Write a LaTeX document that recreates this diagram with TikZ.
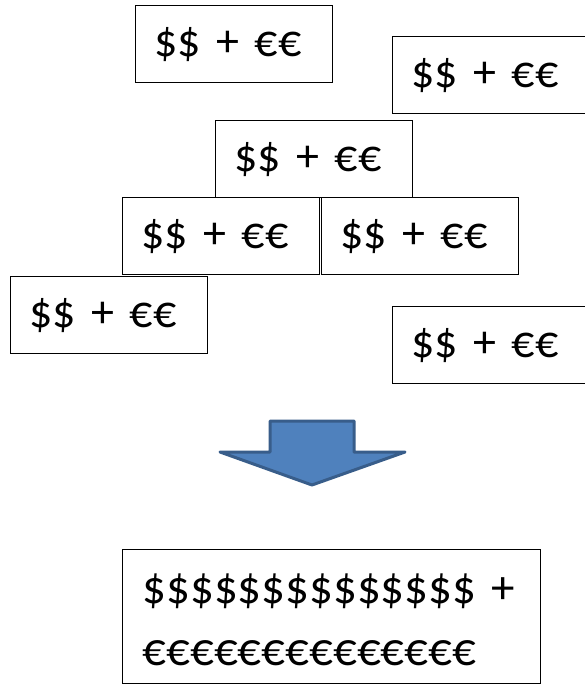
\documentclass[tikz,border=0pt]{standalone}
\usepackage{fontspec}
\setmainfont{Carlito}
\definecolor{arrowfill}{HTML}{4F81BD}
\definecolor{arrowline}{HTML}{385D8A}
\begin{document}
\begin{tikzpicture}[x=1pt,y=-1pt,
  box/.style={draw=black,line width=1.3pt,anchor=north west,text width=159pt,inner xsep=19pt,
    minimum height=77pt,align=left,font=\fontsize{46}{56}\selectfont},
  bigbox/.style={draw=black,line width=1.3pt,anchor=north west,text width=378pt,inner xsep=20pt,
    inner ysep=10.6pt,align=left,font=\fontsize{47}{62}\selectfont}]
\useasboundingbox (0,0) rectangle (585,685);
\clip (0,0) rectangle (585,685);
\fill[white] (0,0) rectangle (585,685);
\node[box] (b1) at (135,5) {\$\$ + €€};
\node[box] (b2) at (392,36) {\$\$ + €€};
\node[box] (b3) at (215,120) {\$\$ + €€};
\node[box] (b4) at (122,197) {\$\$ + €€};
\node[box] (b5) at (321,197) {\$\$ + €€};
\node[box] (b6) at (10,276) {\$\$ + €€};
\node[box] (b7) at (392,306) {\$\$ + €€};
\draw[fill=arrowfill,draw=arrowline,line width=3pt,line join=round]
  (270,421) -- (354,421) -- (354,452) -- (405,452) -- (312,485) -- (220,452) -- (270,452) -- cycle;
\node[bigbox] (res) at (122,549) {\strut\$\$\$\$\$\$\$\$\$\$\$\$\$\$ +\\€€€€€€€€€€€€€€\rule[-7pt]{0pt}{7pt}};
\end{tikzpicture}
\end{document}
